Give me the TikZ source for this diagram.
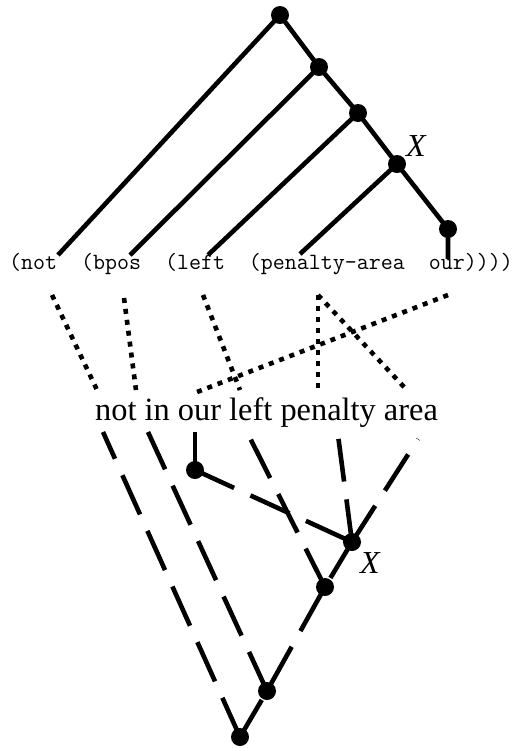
\documentclass[tikz,border=0pt]{standalone}
\usepackage{fontspec}
\setmainfont{Liberation Serif}
\begin{document}
\begin{tikzpicture}[
	x=1pt,y=-1pt,
	tnode/.style={circle,fill=black,inner sep=0pt,minimum size=18pt},
	sedge/.style={draw=black,line width=4.6pt},
	dedge/.style={draw=black,line width=4.6pt,dash pattern=on 43pt off 18pt},
	aedge/.style={draw=black,line width=4.6pt,dash pattern=on 5pt off 6pt}
	]
	\useasboundingbox (0,0) rectangle (512,748);
	% formal expression and its tree
	\node[anchor=base,inner sep=0pt,font=\ttfamily\fontsize{23.3}{27}\selectfont] (mrl) at (261,269) {(not~~(bpos~~(left~~(penalty-area~~our))))};
	\foreach \n/\x/\y in {1/280/15,2/319/67,3/358/113,4/397/164,5/448/229}
		\coordinate (t\n) at (\x,\y);
	\foreach \w/\x/\y in {not/58/255,bpos/130/255,left/208/255,pen/300/254,our/448/259}
		\coordinate (e\w) at (\x,\y);
	\draw[sedge] (t1) -- (t2) -- (t3) -- (t4) -- (t5) -- (eour);
	\foreach \a/\b in {t1/enot,t2/ebpos,t3/eleft,t4/epen}
		\draw[sedge] (\a) -- (\b);
	\node[font=\itshape\fontsize{32}{36}\selectfont] (xtop) at (416,146) {X};
	% word alignment
	\node[anchor=base,inner sep=0pt,font=\fontsize{32.4}{38}\selectfont] (nl) at (266.5,420) {not in our left penalty area};
	\foreach \w/\x/\y in {not/52/295,bpos/124/298,left/203/295,pen/318/295,our/448/295}
		\coordinate (a\w) at (\x,\y);
	\foreach \w/\x/\y in {not/97/390,in/136/390,left/240/390,pen/318/388,area/405/388,our/197/392}
		\coordinate (w\w) at (\x,\y);
	\foreach \a/\b in {anot/wnot,abpos/win,aleft/wleft,apen/wpen,apen/warea,aour/wour}
		\draw[aedge] (\a) -- (\b);
	% tree over the sentence
	\foreach \n/\x/\y in {r/240/737,b4/267/691,b3/325/587,b2/352/542,b1/195/470}
		\coordinate (\n) at (\x,\y);
	\foreach \w/\x/\y in {not/103/432,in/148/432,our/195/432,left/247/432,pen/338/435,area/418/439}
		\coordinate (d\w) at (\x,\y);
	\draw[dedge] (r) -- (b4) -- (b3) -- (b2);
	\draw[dedge] (b2) -- (darea);
	\foreach \a/\b in {r/dnot,b4/din,b3/dleft,b2/dpen,b1/b2}
		\draw[dedge] (\a) -- (\b);
	\draw[sedge] (b1) -- (dour);
	\node[font=\itshape\fontsize{32}{36}\selectfont] (xbot) at (370,563) {X};
	\foreach \c in {t1,t2,t3,t4,t5,r,b4,b3,b2,b1}
		\node[tnode] (dot-\c) at (\c) {};
\end{tikzpicture}
\end{document}
